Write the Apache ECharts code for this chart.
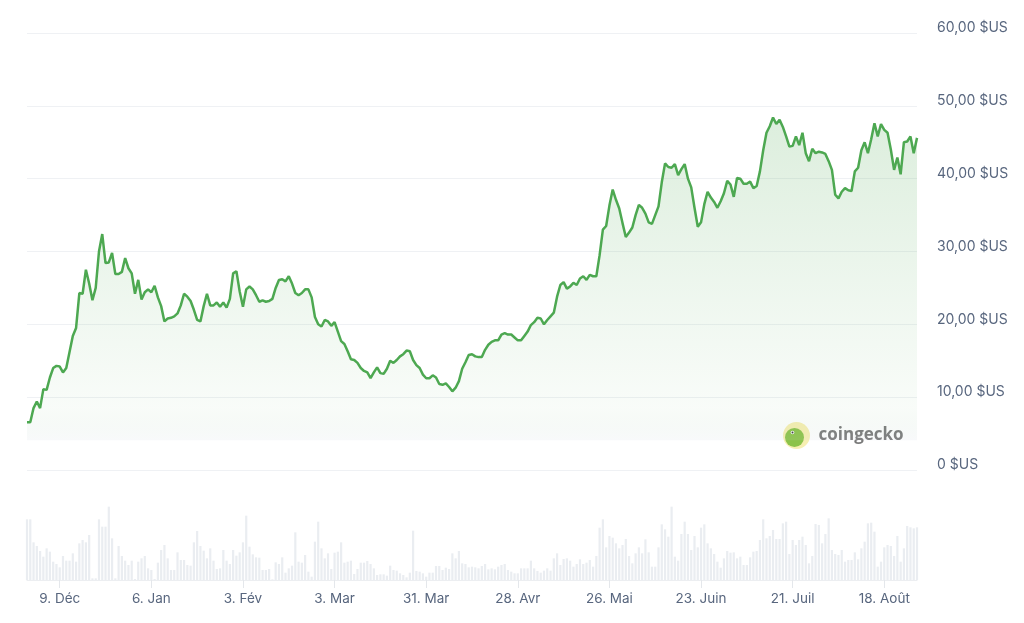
<!DOCTYPE html>
<html>
<head>
<meta charset="utf-8">
<script src="https://cdn.jsdelivr.net/npm/echarts@6/dist/echarts.min.js"></script>
<style>
  html, body { margin: 0; padding: 0; background: #ffffff; }
  #chart { width: 1024px; height: 623px; }
</style>
</head>
<body>
<div id="chart"></div>
<script>
// ---- data ----
const startDateUTC = Date.UTC(2022, 10, 29); // first day of the series
const dayCount = 273;

const prices = [
  6.55, 6.55, 8.5, 9.4, 8.5, 11.1, 11.0, 12.7, 14.0, 14.3,
  14.2, 13.4, 14.0, 16.2, 18.4, 19.5, 24.3, 24.2, 27.5, 25.6,
  23.3, 25.0, 30.0, 32.4, 28.4, 28.5, 29.8, 26.9, 26.9, 27.2,
  29.1, 27.7, 27.0, 24.2, 26.1, 23.4, 24.4, 24.8, 24.4, 25.3,
  23.7, 22.5, 20.4, 20.8, 20.9, 21.1, 21.5, 22.6, 24.2, 23.8,
  23.2, 22.0, 20.6, 20.4, 22.5, 24.2, 22.6, 22.6, 23.0, 22.4,
  23.0, 22.3, 23.5, 27.0, 27.3, 24.5, 22.4, 24.8, 25.2, 24.8,
  24.0, 23.1, 23.3, 23.1, 23.2, 23.5, 25.0, 26.1, 26.2, 25.9,
  26.6, 25.6, 24.3, 24.0, 24.3, 24.8, 24.8, 23.7, 21.0, 20.0,
  19.7, 20.6, 20.4, 19.8, 20.3, 19.0, 17.7, 17.3, 16.3, 15.2,
  15.1, 14.7, 14.0, 13.6, 13.4, 12.6, 13.4, 14.1, 13.3, 13.2,
  13.9, 15.0, 14.7, 15.1, 15.6, 15.9, 16.4, 16.3, 15.1, 14.4,
  14.0, 13.1, 12.6, 12.6, 13.0, 12.7, 11.8, 11.7, 11.9, 11.4,
  10.8, 11.3, 12.2, 13.9, 14.8, 15.8, 15.9, 15.6, 15.5, 15.5,
  16.5, 17.2, 17.6, 17.8, 17.8, 18.6, 18.8, 18.6, 18.6, 18.2,
  17.8, 17.8, 18.4, 19.0, 19.9, 20.3, 20.9, 20.8, 20.0, 20.6,
  21.1, 21.6, 23.8, 25.4, 25.8, 24.9, 25.2, 25.7, 25.4, 26.3,
  26.6, 26.1, 26.8, 26.6, 26.6, 29.5, 33.0, 33.5, 36.3, 38.5,
  37.1, 35.9, 33.9, 32.0, 32.6, 33.3, 35.0, 36.4, 36.0, 35.2,
  34.0, 33.8, 35.0, 36.2, 39.5, 42.1, 41.6, 41.5, 42.0, 40.5,
  41.3, 42.0, 40.0, 38.8, 36.0, 33.4, 34.0, 36.5, 38.2, 37.4,
  36.8, 36.0, 36.9, 38.0, 39.7, 39.2, 37.5, 40.1, 40.0, 39.3,
  39.3, 39.6, 38.7, 39.0, 41.0, 43.9, 46.3, 47.2, 48.4, 47.5,
  48.1, 47.1, 45.8, 44.4, 44.5, 45.8, 44.6, 46.3, 43.5, 42.4,
  44.1, 43.5, 43.7, 43.6, 43.4, 42.4, 41.2, 37.8, 37.3, 38.2,
  38.7, 38.4, 38.3, 41.0, 41.5, 43.9, 45.0, 43.5, 45.4, 47.6,
  45.8, 47.5, 46.7, 46.3, 44.0, 41.2, 42.9, 40.6, 45.0, 45.1,
  45.8, 43.5, 45.6
];

const volumes = [
  182, 182, 113, 102, 87, 70, 95, 85, 55, 48,
  38, 72, 58, 58, 80, 55, 110, 120, 113, 135,
  5, 5, 182, 160, 160, 220, 125, 5, 102, 72,
  58, 45, 58, 3, 55, 65, 72, 35, 30, 3,
  52, 90, 105, 65, 30, 30, 83, 60, 60, 45,
  43, 113, 147, 102, 88, 65, 95, 58, 33, 35,
  90, 58, 48, 90, 73, 83, 113, 193, 100, 77,
  68, 67, 30, 30, 33, 2, 53, 48, 68, 22,
  35, 43, 143, 55, 52, 75, 25, 10, 115, 175,
  95, 65, 80, 33, 82, 85, 113, 52, 55, 58,
  18, 33, 52, 52, 57, 48, 35, 15, 17, 17,
  13, 43, 30, 28, 20, 15, 8, 22, 148, 27,
  25, 20, 10, 22, 22, 42, 42, 30, 37, 33,
  80, 65, 87, 50, 48, 38, 40, 38, 35, 42,
  48, 32, 35, 32, 40, 45, 48, 30, 25, 20,
  20,
  35, 35, 35, 58, 35, 27, 22, 28, 35, 28,
  65, 80, 45, 63, 65, 58, 40, 48, 62, 48,
  52, 60, 40, 72, 157, 182, 98, 132, 127, 110,
  95, 105, 123, 72, 50, 80, 98, 80, 122, 83,
  40, 40, 98, 167, 152, 130, 220, 70, 58, 138,
  175, 138, 90, 132, 98, 157, 167, 110, 95, 78,
  55, 37, 65, 87, 82, 83, 65, 70, 45, 45,
  68, 85, 87, 120, 182, 125, 132, 150, 123, 123,
  170, 175, 78, 120, 105, 120, 130, 105, 50, 72,
  168, 165, 110, 138, 185, 90, 78, 75, 90, 55,
  60, 60, 83, 62, 95, 115, 170, 172, 145, 40,
  55, 98, 105, 102, 72, 132, 55, 95, 162, 158,
  155, 158
];

const tickDates = ['2022-12-09', '2023-01-06', '2023-02-03', '2023-03-03', '2023-03-31',
                   '2023-04-28', '2023-05-26', '2023-06-23', '2023-07-21', '2023-08-18'];
const tickLabels = ['9. Déc', '6. Jan', '3. Fév', '3. Mar', '31. Mar',
                    '28. Avr', '26. Mai', '23. Juin', '21. Juil', '18. Août'];

const priceTicks = [0, 10, 20, 30, 40, 50, 60];

// ---- build ----
const categories = [];
for (let i = 0; i < dayCount; i++) {
  categories.push(new Date(startDateUTC + i * 86400000).toISOString().slice(0, 10));
}
const tickMap = {};
tickDates.forEach((d, i) => { tickMap[d] = tickLabels[i]; });
const isTick = (idx, val) => tickMap.hasOwnProperty(val);

const labelColor = '#58667e';
const fontFam = 'Inter, "Noto Sans", sans-serif';

const chart = echarts.init(document.getElementById('chart'), null, { renderer: 'canvas' });

chart.setOption({
  animation: false,
  backgroundColor: '#ffffff',
  grid: [
    { left: 27, right: 107, top: 33, height: 437 },
    { left: 27, right: 107, top: 490, height: 90 }
  ],
  xAxis: [
    {
      type: 'category', gridIndex: 0, data: categories, boundaryGap: false,
      axisLine: { show: false }, axisTick: { show: false },
      axisLabel: { show: false }, splitLine: { show: false }
    },
    {
      type: 'category', gridIndex: 1, data: categories, boundaryGap: false,
      axisLine: { show: true, lineStyle: { color: '#eceef1', width: 1 } },
      axisTick: { show: true, interval: isTick, length: 8, lineStyle: { color: '#e4e7eb' } },
      axisLabel: {
        interval: isTick, color: labelColor, fontSize: 13.5, fontFamily: fontFam, margin: 12,
        formatter: v => tickMap[v] || ''
      },
      splitLine: { show: false }
    }
  ],
  yAxis: [
    {
      type: 'value', gridIndex: 0, position: 'right',
      min: priceTicks[0], max: priceTicks[priceTicks.length - 1], interval: 10,
      axisLine: { show: false }, axisTick: { show: false },
      splitLine: { show: true, lineStyle: { color: '#eff1f4', width: 1 } },
      axisLabel: {
        color: labelColor, fontSize: 14, fontFamily: fontFam, margin: 20, align: 'left',
        verticalAlign: 'bottom', lineHeight: 10,
        formatter: v => v === 0 ? '0 $US' : v.toFixed(2).replace('.', ',') + ' $US'
      }
    },
    {
      type: 'value', gridIndex: 1, min: 0, max: 270, show: false,
      splitLine: { show: false }
    }
  ],
  series: [
    {
      type: 'bar', xAxisIndex: 1, yAxisIndex: 1, data: volumes,
      barWidth: 2.2, clip: false,
      itemStyle: { color: '#eaedf1' },
      silent: true
    },
    {
      type: 'line', xAxisIndex: 0, yAxisIndex: 0, data: prices,
      showSymbol: false, smooth: false,
      lineStyle: { color: '#4da851', width: 2.5 },
      areaStyle: {
        origin: 4.1,
        color: new echarts.graphic.LinearGradient(0, 0, 0, 1, [
          { offset: 0, color: 'rgba(77,168,81,0.28)' },
          { offset: 0.6, color: 'rgba(77,168,81,0.12)' },
          { offset: 0.9, color: 'rgba(77,168,81,0.05)' },
          { offset: 1, color: 'rgba(190,200,215,0.15)' }
        ])
      },
      z: 3
    }
  ],
  graphic: [
    {
      type: 'group', left: 783, top: 422, z: 10,
      children: [
        { type: 'circle', shape: { cx: 14, cy: 14, r: 13.5 }, style: { fill: '#f7efb2' } },
        { type: 'circle', shape: { cx: 12, cy: 16, r: 9.5 }, style: { fill: '#8cc34a' } },
        { type: 'circle', shape: { cx: 10, cy: 11, r: 1.8 }, style: { fill: '#ffffff' } },
        { type: 'circle', shape: { cx: 10, cy: 11, r: 1 }, style: { fill: '#3b3b3b' } },
        {
          type: 'text', x: 36, y: 14,
          style: {
            text: 'coingecko', fill: '#7a7a7a', fontSize: 17, fontWeight: 'bold',
            fontFamily: '"Open Sans", "Noto Sans", sans-serif', verticalAlign: 'middle'
          }
        }
      ]
    }
  ]
});
</script>
</body>
</html>
